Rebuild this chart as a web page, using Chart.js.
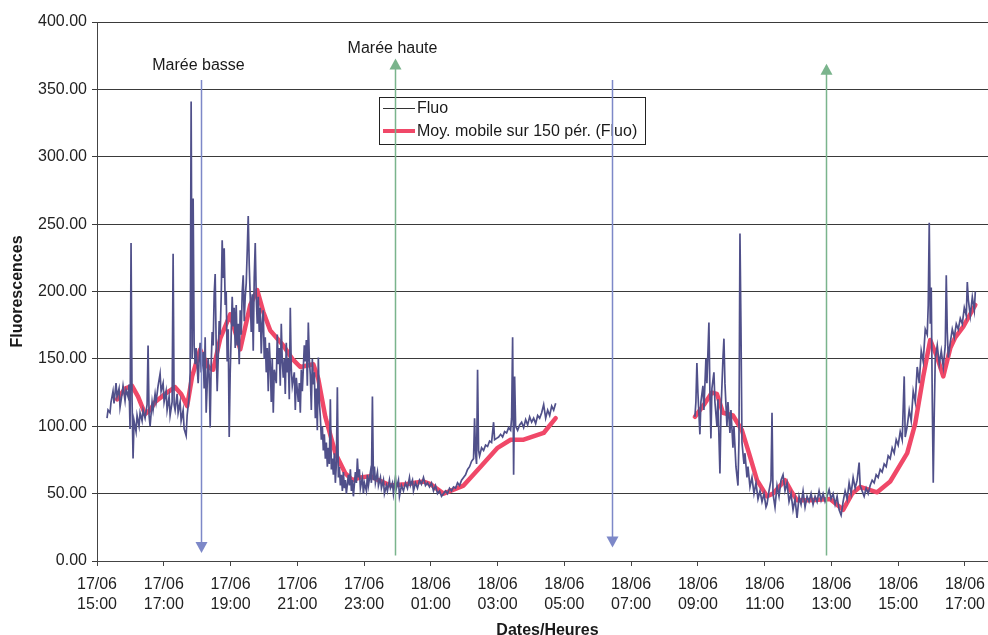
<!DOCTYPE html>
<html>
<head>
<meta charset="utf-8">
<title>Fluorescences</title>
<script src="https://cdn.jsdelivr.net/npm/chart.js@4.4.1/dist/chart.umd.min.js"></script>
<style>
  html, body { margin: 0; padding: 0; background: #fff; }
</style>
</head>
<body>
<canvas id="fluoChart" width="988" height="635"></canvas>
<script>
// Time axis is in hours counted from 17/06 00:00 (24 = 18/06 00:00).
const tickHours = [15, 17, 19, 21, 23, 25, 27, 29, 31, 33, 35, 37, 39, 41];
const yTicks = [0, 50, 100, 150, 200, 250, 300, 350, 400];

// Raw probe readings [hour, fluo]; the null entry is the gap while the probe was out.
const fluo = [
  [15.30,106],[15.33,112],[15.39,110],[15.42,118],[15.48,126],[15.51,117],[15.57,132],[15.60,122],
  [15.66,128],[15.69,114],[15.75,124],[15.78,130],[15.84,119],[15.87,127],[15.93,122],[15.96,131],
  [15.99,98],[16.02,236],[16.05,120],[16.08,76],[16.11,104],[16.17,96],[16.20,108],[16.26,100],
  [16.29,110],[16.35,104],[16.38,112],[16.44,106],[16.50,116],[16.53,160],[16.56,108],[16.59,100],
  [16.65,118],[16.68,112],[16.74,124],[16.77,118],[16.83,130],[16.89,139],[16.92,126],[16.98,132],
  [17.01,118],[17.07,126],[17.10,112],[17.16,122],[17.19,108],[17.25,118],[17.28,228],[17.31,116],
  [17.34,112],[17.40,124],[17.43,110],[17.49,118],[17.52,104],[17.58,112],[17.61,98],[17.67,93],
  [17.70,108],[17.76,122],[17.79,140],[17.82,341],[17.85,150],[17.88,269],[17.91,160],[17.94,146],
  [17.97,158],[18.03,132],[18.06,150],[18.09,162],[18.12,140],[18.18,155],[18.21,128],[18.24,166],
  [18.27,110],[18.33,150],[18.36,138],[18.39,99],[18.42,146],[18.45,170],[18.48,160],[18.51,198],
  [18.54,213],[18.57,160],[18.60,126],[18.63,150],[18.66,178],[18.69,168],[18.72,196],[18.75,238],
  [18.78,210],[18.81,232],[18.84,190],[18.87,200],[18.90,148],[18.93,172],[18.96,92],[18.99,140],
  [19.02,168],[19.05,196],[19.08,174],[19.11,188],[19.14,158],[19.17,190],[19.20,160],[19.23,176],
  [19.26,146],[19.29,186],[19.32,168],[19.35,200],[19.38,212],[19.41,178],[19.44,196],[19.47,206],
  [19.50,230],[19.53,256],[19.56,220],[19.59,196],[19.62,170],[19.65,198],[19.68,156],[19.71,210],
  [19.74,236],[19.77,196],[19.80,176],[19.83,196],[19.86,170],[19.89,188],[19.92,154],[19.95,176],
  [19.98,186],[20.01,150],[20.04,166],[20.07,140],[20.10,158],[20.13,126],[20.16,162],[20.19,146],
  [20.22,118],[20.25,150],[20.28,110],[20.31,142],[20.37,132],[20.40,168],[20.43,146],[20.46,158],
  [20.49,130],[20.52,176],[20.55,148],[20.58,136],[20.61,150],[20.64,124],[20.67,162],[20.70,140],
  [20.73,150],[20.76,120],[20.79,188],[20.82,142],[20.85,130],[20.91,140],[20.94,112],[20.97,136],
  [21.03,118],[21.06,132],[21.09,110],[21.12,142],[21.15,126],[21.21,160],[21.24,148],[21.27,164],
  [21.30,130],[21.33,177],[21.36,150],[21.39,138],[21.42,112],[21.45,150],[21.48,131],[21.51,140],
  [21.54,106],[21.57,128],[21.60,97],[21.63,151],[21.66,118],[21.69,107],[21.72,90],[21.75,100],
  [21.78,82],[21.81,94],[21.84,76],[21.87,88],[21.90,70],[21.93,84],[21.96,72],[21.99,120],
  [22.02,68],[22.05,76],[22.08,64],[22.11,80],[22.14,58],[22.17,72],[22.20,129],[22.23,62],
  [22.26,70],[22.29,56],[22.32,64],[22.35,52],[22.38,66],[22.41,54],[22.44,60],[22.47,50],
  [22.53,64],[22.56,56],[22.59,68],[22.62,52],[22.65,60],[22.68,48],[22.74,66],[22.77,58],
  [22.80,76],[22.83,62],[22.86,68],[22.89,54],[22.95,62],[22.98,50],[23.01,58],[23.07,52],
  [23.10,64],[23.13,56],[23.19,66],[23.22,58],[23.25,122],[23.28,60],[23.31,70],[23.34,58],
  [23.40,66],[23.43,56],[23.49,62],[23.52,54],[23.58,60],[23.61,50],[23.67,56],[23.70,52],
  [23.76,60],[23.79,54],[23.85,58],[23.88,50],[23.94,62],[23.97,54],[24.03,60],[24.06,48],
  [24.12,56],[24.18,52],[24.24,58],[24.30,54],[24.36,62],[24.39,56],[24.45,60],[24.48,52],
  [24.54,58],[24.60,54],[24.66,60],[24.72,57],[24.78,62],[24.84,56],[24.90,58],[24.96,55],
  [25.02,58],[25.08,52],[25.14,56],[25.20,50],[25.26,52],[25.32,48],[25.38,50],[25.44,52],
  [25.50,50],[25.56,54],[25.62,52],[25.68,55],[25.74,54],[25.80,58],[25.86,56],[25.92,60],
  [25.98,62],[26.04,64],[26.10,68],[26.16,70],[26.22,74],[26.28,76],[26.31,106],[26.34,80],
  [26.37,72],[26.40,142],[26.43,82],[26.46,78],[26.52,84],[26.58,82],[26.64,86],[26.70,85],
  [26.76,89],[26.82,88],[26.88,103],[26.91,90],[26.97,91],[27.03,92],[27.09,94],[27.15,92],
  [27.21,96],[27.27,95],[27.33,99],[27.39,97],[27.42,106],[27.45,166],[27.48,64],[27.51,137],
  [27.54,100],[27.60,97],[27.66,101],[27.72,103],[27.78,99],[27.84,105],[27.90,101],[27.96,107],
  [28.02,103],[28.08,106],[28.14,102],[28.20,108],[28.26,106],[28.32,110],[28.38,116],[28.44,106],
  [28.50,112],[28.56,108],[28.62,115],[28.68,112],[28.74,117],
  [30.50,null],
  [32.91,107],[32.94,118],[32.97,147],[33.00,125],[33.06,94],[33.09,118],[33.15,130],[33.18,112],
  [33.24,150],[33.27,132],[33.33,177],[33.36,125],[33.39,91],[33.42,128],[33.48,140],[33.51,118],
  [33.57,100],[33.60,120],[33.66,65],[33.69,110],[33.75,150],[33.78,165],[33.81,132],[33.87,100],
  [33.90,118],[33.96,95],[33.99,112],[34.05,84],[34.08,100],[34.14,70],[34.20,56],[34.23,90],
  [34.26,243],[34.29,174],[34.32,88],[34.38,72],[34.41,80],[34.47,62],[34.50,70],[34.56,55],
  [34.62,62],[34.68,50],[34.74,58],[34.80,46],[34.86,52],[34.92,44],[34.98,50],[35.04,40],
  [35.07,42],[35.13,52],[35.19,60],[35.22,110],[35.25,50],[35.31,40],[35.37,56],[35.43,48],
  [35.49,60],[35.55,64],[35.61,52],[35.67,58],[35.73,44],[35.79,50],[35.85,38],[35.91,46],
  [35.97,32],[36.03,48],[36.09,42],[36.15,52],[36.21,40],[36.27,48],[36.33,44],[36.39,50],
  [36.45,42],[36.51,48],[36.57,44],[36.63,52],[36.69,45],[36.75,50],[36.81,44],[36.87,48],
  [36.93,53],[36.99,46],[37.05,50],[37.11,42],[37.17,48],[37.23,38],[37.29,34],[37.35,44],
  [37.41,52],[37.47,46],[37.53,58],[37.59,50],[37.65,62],[37.71,54],[37.77,60],[37.83,73],
  [37.86,56],[37.92,52],[37.98,48],[38.04,54],[38.10,50],[38.16,56],[38.22,60],[38.28,58],
  [38.34,64],[38.40,62],[38.46,68],[38.52,66],[38.58,72],[38.64,70],[38.70,78],[38.76,76],
  [38.82,84],[38.88,80],[38.94,90],[39.00,86],[39.06,96],[39.12,90],[39.18,137],[39.21,92],
  [39.27,100],[39.33,112],[39.39,104],[39.45,126],[39.51,118],[39.57,144],[39.63,132],[39.69,156],
  [39.75,148],[39.81,172],[39.87,168],[39.90,190],[39.93,251],[39.96,176],[39.99,203],[40.02,120],
  [40.05,58],[40.08,110],[40.11,150],[40.17,160],[40.23,146],[40.29,156],[40.35,144],[40.41,160],
  [40.44,212],[40.47,170],[40.50,151],[40.56,162],[40.62,172],[40.68,166],[40.74,176],[40.80,172],
  [40.86,180],[40.92,176],[40.98,188],[41.04,182],[41.07,207],[41.10,194],[41.16,182],[41.22,196],
  [41.28,186],[41.31,200]
];

// Moving average over 150 periods [hour, fluo].
const fluoMean = [
  [15.60,120],[15.84,128],[16.05,130],[16.23,122],[16.44,109],[16.59,112],[16.74,118],[17.04,124],
  [17.34,129],[17.52,124],[17.70,115],[17.85,137],[18.09,157],[18.33,144],[18.48,142],[18.69,165],
  [18.99,183],[19.29,157],[19.59,190],[19.80,201],[19.98,185],[20.19,171],[20.58,160],[20.85,150],
  [21.09,144],[21.48,146],[21.63,135],[21.84,107],[22.14,80],[22.44,65],[22.65,60],[22.89,62],
  [23.19,63],[23.43,60],[23.79,56],[24.24,57],[24.78,59],[24.99,57],[25.38,50],[25.98,56],
  [26.49,70],[27.00,84],[27.39,90],[27.78,90],[28.38,95],[28.74,106],
  [30.50,null],
  [32.91,107],[33.21,117],[33.42,125],[33.57,124],[33.75,110],[34.05,108],[34.32,97],[34.53,80],
  [34.77,60],[35.07,48],[35.25,50],[35.61,60],[35.79,52],[35.97,45],[36.36,45],[36.96,46],
  [37.35,38],[37.62,50],[37.86,55],[38.37,51],[38.76,59],[39.27,80],[39.51,102],[39.75,137],
  [39.96,164],[40.17,151],[40.35,137],[40.56,158],[40.71,166],[40.95,174],[41.31,190]
];

// Tide turns: hour, arrow extent in fluo units, kind.
const tideHours = [18.12, 23.94, 30.42, 36.84];
const tideTop = [357, 373, 357, 369];
const tideBottom = [6, 4, 10, 4];
const tideKinds = ['basse', 'haute', 'basse', 'haute'];
const tideLabels = ['Marée basse', 'Marée haute', '', ''];

const legendLabels = ['Fluo', 'Moy. mobile sur 150 pér. (Fluo)'];

const FONT = '"Liberation Sans", Arial, sans-serif';
const toPoints = rows => rows.map(r => ({ x: r[0], y: r[1] }));

function hourLabel(h) {
  const day = h < 24 ? '17/06' : '18/06';
  const hh = String(Math.round(h) % 24).padStart(2, '0');
  return [day, hh + ':00'];
}

const overlay = {
  id: 'overlay',
  afterDatasetsDraw(chart) {
    const { ctx, chartArea: area, scales: { x, y } } = chart;
    ctx.save();

    // legend box
    const lx = area.left + 282, ly = area.top + 75;
    ctx.fillStyle = '#fff';
    ctx.fillRect(lx, ly, 266, 47);
    ctx.strokeStyle = '#222';
    ctx.lineWidth = 1;
    ctx.strokeRect(lx + 0.5, ly + 0.5, 266, 47);
    ctx.beginPath();
    ctx.moveTo(lx + 4, ly + 11.5);
    ctx.lineTo(lx + 36, ly + 11.5);
    ctx.strokeStyle = '#333';
    ctx.stroke();
    ctx.beginPath();
    ctx.moveTo(lx + 4, ly + 34);
    ctx.lineTo(lx + 36, ly + 34);
    ctx.strokeStyle = '#f04868';
    ctx.lineWidth = 4;
    ctx.stroke();
    ctx.fillStyle = '#1a1a1a';
    ctx.font = '16px ' + FONT;
    ctx.textAlign = 'left';
    ctx.textBaseline = 'middle';
    ctx.fillText(legendLabels[0], lx + 38, ly + 12);
    ctx.fillText(legendLabels[1], lx + 38, ly + 35);

    // tide arrows
    tideHours.forEach((h, i) => {
      const px = Math.round(x.getPixelForValue(h)) + 0.5;
      const top = y.getPixelForValue(tideTop[i]);
      const bottom = y.getPixelForValue(tideBottom[i]);
      const low = tideKinds[i] === 'basse';
      const col = low ? '#7d88c8' : '#7ab48c';
      ctx.strokeStyle = col;
      ctx.fillStyle = col;
      ctx.lineWidth = 1.5;
      ctx.beginPath();
      if (low) {
        ctx.moveTo(px, top);
        ctx.lineTo(px, bottom - 10);
      } else {
        ctx.moveTo(px, bottom);
        ctx.lineTo(px, top + 10);
      }
      ctx.stroke();
      ctx.beginPath();
      if (low) {
        ctx.moveTo(px - 6, bottom - 11);
        ctx.lineTo(px + 6, bottom - 11);
        ctx.lineTo(px, bottom);
      } else {
        ctx.moveTo(px - 6, top + 11);
        ctx.lineTo(px + 6, top + 11);
        ctx.lineTo(px, top);
      }
      ctx.closePath();
      ctx.fill();
      if (tideLabels[i]) {
        ctx.fillStyle = '#1a1a1a';
        ctx.font = '16px ' + FONT;
        ctx.textAlign = 'center';
        ctx.textBaseline = 'alphabetic';
        ctx.fillText(tideLabels[i], px - 3, top - (low ? 10 : 5));
      }
    });

    // axis titles
    ctx.fillStyle = '#1a1a1a';
    ctx.font = 'bold 16px ' + FONT;
    ctx.textAlign = 'center';
    ctx.textBaseline = 'middle';
    ctx.save();
    ctx.translate(18, (area.top + area.bottom) / 2);
    ctx.rotate(-Math.PI / 2);
    ctx.fillText('Fluorescences', 0, 0);
    ctx.restore();
    ctx.textBaseline = 'top';
    ctx.fillText('Dates/Heures', (area.left + area.right) / 2 + 5, 623);
    ctx.restore();
  }
};

new Chart(document.getElementById('fluoChart'), {
  type: 'line',
  data: {
    datasets: [
      {
        label: legendLabels[0],
        data: toPoints(fluo),
        borderColor: '#50508a',
        borderWidth: 1.7,
        pointRadius: 0,
        spanGaps: false,
        tension: 0
      },
      {
        label: legendLabels[1],
        data: toPoints(fluoMean),
        borderColor: '#f04868',
        borderWidth: 4.5,
        borderJoinStyle: 'round',
        borderCapStyle: 'round',
        pointRadius: 0,
        spanGaps: false,
        tension: 0
      }
    ]
  },
  options: {
    responsive: false,
    animation: false,
    layout: { padding: { top: 22, right: 0, bottom: 0, left: 0 } },
    plugins: { legend: { display: false }, tooltip: { enabled: false } },
    scales: {
      x: {
        type: 'linear',
        min: 15,
        max: 41.69,
        afterBuildTicks: scale => { scale.ticks = tickHours.map(v => ({ value: v })); },
        afterFit: scale => { scale.height = 74; scale.paddingLeft = 0; scale.paddingRight = 0; },
        ticks: {
          autoSkip: false,
          maxRotation: 0,
          padding: 9,
          color: '#222',
          font: { family: FONT, size: 16, lineHeight: 1.25 },
          callback: v => hourLabel(v)
        },
        grid: { drawOnChartArea: false, drawTicks: true, tickLength: 5, color: '#444' },
        border: { color: '#444', width: 1 }
      },
      y: {
        min: 0,
        max: 400,
        afterBuildTicks: scale => { scale.ticks = yTicks.map(v => ({ value: v })); },
        afterFit: scale => { scale.width = 97; scale.paddingTop = 0; scale.paddingBottom = 0; },
        ticks: {
          padding: 5,
          color: '#222',
          font: { family: FONT, size: 16 },
          callback: v => v.toFixed(2)
        },
        grid: { color: '#3a3a3a', lineWidth: 1, tickLength: 5 },
        border: { color: '#444', width: 1 }
      }
    }
  },
  plugins: [overlay]
});
</script>
</body>
</html>
